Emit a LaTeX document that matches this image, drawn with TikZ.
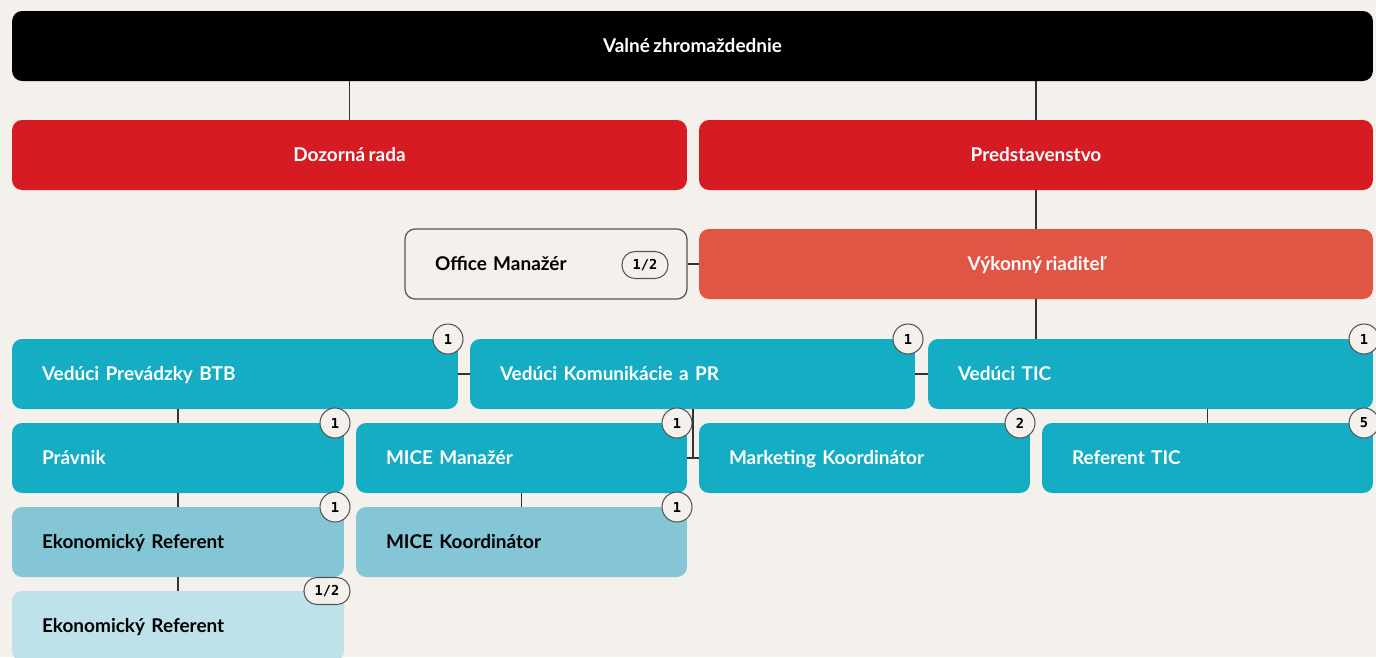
\documentclass[tikz,border=0pt]{standalone}
\usepackage{fontspec}
\setmainfont[WordSpace=0.75]{Lato}
\newfontfamily\badgefont{DejaVu Sans Mono}
\definecolor{bg}{HTML}{F4F1EC}
\definecolor{blk}{HTML}{000000}
\definecolor{redA}{HTML}{D71B23}
\definecolor{coral}{HTML}{E05544}
\definecolor{teal}{HTML}{15ADC4}
\definecolor{tealL}{HTML}{84C5D6}
\definecolor{tealXL}{HTML}{BEE1EA}
\definecolor{linec}{HTML}{333333}
\definecolor{bordc}{HTML}{555555}
\tikzset{
  box/.style={rounded corners=0.2cm, draw=none, minimum height=1.4cm, inner ysep=0pt,
    text height=7.6pt, text depth=0pt,
    font=\fontsize{10.8}{12}\selectfont\bfseries},
  cbox/.style={box, minimum width=#1, align=center},
  lbox/.style={box, text width=#1, inner xsep=0.6cm, align=left},
  wtxt/.style={text=white},
  btxt/.style={text=black},
  conn/.style={draw=linec, line width=0.8pt},
  badge/.style={circle, draw=bordc, fill=bg, line width=0.6pt, minimum size=0.6cm, inner sep=0pt,
    font=\badgefont\fontsize{7.8}{8}\selectfont\bfseries},
  pill/.style={rounded corners=0.26cm, draw=bordc, fill=bg, line width=0.6pt, minimum width=0.92cm, minimum height=0.54cm, inner sep=0pt,
    font=\badgefont\fontsize{7.8}{8}\selectfont\bfseries},
}
\begin{document}
\begin{tikzpicture}[x=0.02cm,y=-0.02cm]
\useasboundingbox (0,0) rectangle (1376,657);
\clip (0,0) rectangle (1376,657);
\fill[bg] (0,0) rectangle (1376,657);

\node[cbox=27.22cm, fill=blk, wtxt] (vz) at (692.5,46) {Valné zhromaždednie};
\node[cbox=13.5cm, fill=redA, wtxt] (dr) at (349.5,155) {Dozorná rada};
\node[cbox=13.48cm, fill=redA, wtxt] (pr) at (1036,155) {Predstavenstvo};
\node[lbox=4.44cm, fill=bg, draw=bordc, line width=0.7pt, btxt] (om) at (546,264) {Office Manažér};
\node[cbox=13.48cm, fill=coral, wtxt] (vr) at (1036,264) {Výkonný riaditeľ};
\node[lbox=7.72cm, fill=teal, wtxt] (btb) at (235,374) {Vedúci Prevádzky BTB};
\node[lbox=7.7cm, fill=teal, wtxt] (kom) at (692.5,374) {Vedúci Komunikácie a PR};
\node[lbox=7.7cm, fill=teal, wtxt] (tic) at (1150.5,374) {Vedúci TIC};
\node[lbox=5.44cm, fill=teal, wtxt] (prav) at (178,458) {Právnik};
\node[lbox=5.42cm, fill=teal, wtxt] (micem) at (521.5,458) {MICE Manažér};
\node[lbox=5.42cm, fill=teal, wtxt] (mark) at (864.5,458) {Marketing Koordinátor};
\node[lbox=5.42cm, fill=teal, wtxt] (rtic) at (1207.5,458) {Referent TIC};
\node[lbox=5.44cm, fill=tealL, btxt] (eko) at (178,542) {Ekonomický Referent};
\node[lbox=5.42cm, fill=tealL, btxt] (micek) at (521.5,542) {MICE Koordinátor};
\node[lbox=5.44cm, fill=tealXL, btxt] (eko2) at (178,626) {Ekonomický Referent};

% connectors
\draw[conn] (vz.south -| dr.north) -- (dr.north);
\draw[conn] (vz.south -| pr.north) -- (pr.north);
\draw[conn] (pr) -- (vr);
\draw[conn] (om.east) -- (vr.west);
\draw[conn] (vr) -- (tic.north -| vr.south);
\draw[conn] (btb.east) -- (kom.west);
\draw[conn] (kom.east) -- (tic.west);
\draw[conn] (btb.south -| prav.north) -- (prav.north);
\coordinate (kj) at (693,458);
\draw[conn] (kom.south -| kj) -- (kj);
\draw[conn] (micem.east) -- (mark.west);
\draw[conn] (tic.south -| rtic.north) -- (rtic.north);
\draw[conn] (prav) -- (eko);
\draw[conn] (micem) -- (micek);
\draw[conn] (eko) -- (eko2);

% badges
\node[pill] (b0) at (645,265) {1/2};
\node[badge] (b1) at (448,339) {1};
\node[badge] (b2) at (908,339) {1};
\node[badge] (b3) at (1364,339) {1};
\node[badge] (b4) at (335,423) {1};
\node[badge] (b5) at (677,423) {1};
\node[badge] (b6) at (1020,423) {2};
\node[badge] (b7) at (1364,423) {5};
\node[badge] (b8) at (335,507) {1};
\node[badge] (b9) at (677,507) {1};
\node[pill] (b10) at (327,591) {1/2};
\end{tikzpicture}
\end{document}
